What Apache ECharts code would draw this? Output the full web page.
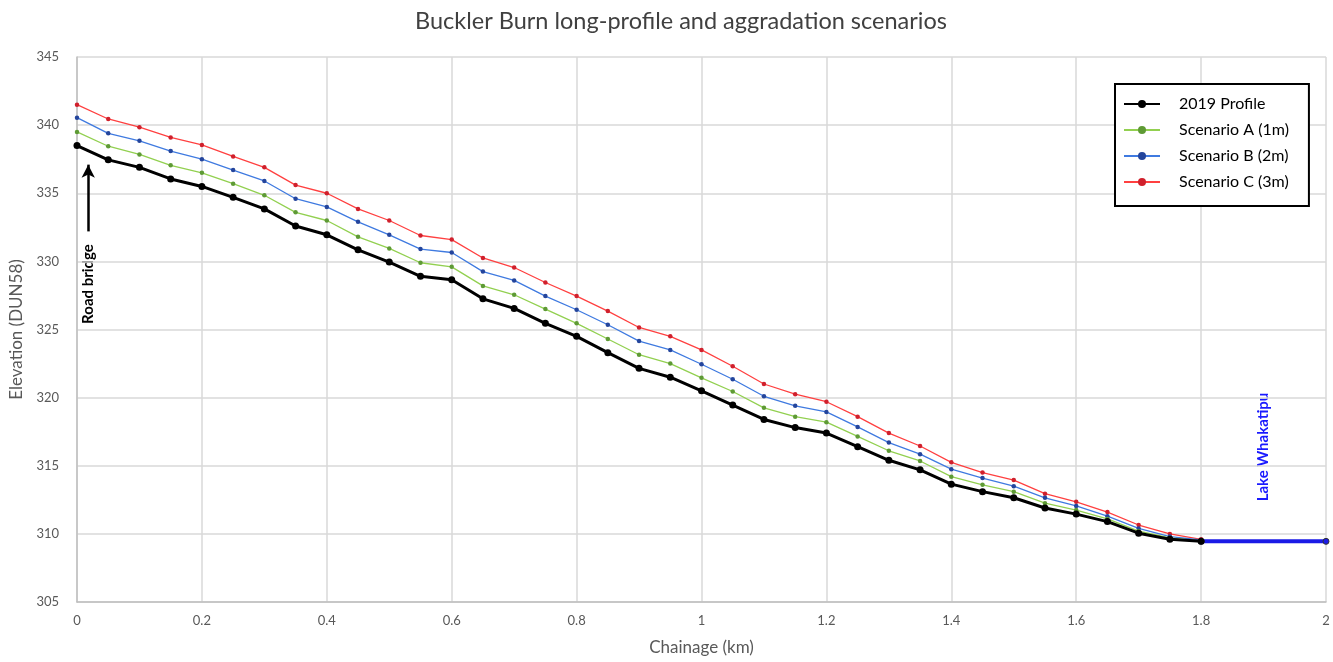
<!DOCTYPE html>
<html>
<head>
<meta charset="utf-8">
<script src="https://cdn.jsdelivr.net/npm/echarts@6/dist/echarts.min.js"></script>
<style>
  html, body { margin: 0; padding: 0; background: #fff; }
  #chart { width: 1333px; height: 662px; }
</style>
</head>
<body>
<div id="chart"></div>
<script>
// chainage in km, one point every 50 m up to the lake
const chainage = [0, 0.05, 0.1, 0.15, 0.2, 0.25, 0.3, 0.35, 0.4, 0.45, 0.5, 0.55, 0.6, 0.65, 0.7, 0.75,
    0.8, 0.85, 0.9, 0.95, 1.0, 1.05, 1.1, 1.15, 1.2, 1.25, 1.3, 1.35, 1.4, 1.45, 1.5, 1.55, 1.6, 1.65,
    1.7, 1.75, 1.8];

const profile2019 = [338.5, 337.45, 336.9, 336.05, 335.5, 334.7, 333.85, 332.6, 331.95, 330.85, 329.95,
    328.9, 328.65, 327.25, 326.55, 325.45, 324.5, 323.3, 322.15, 321.5, 320.5, 319.45, 318.4, 317.8,
    317.4, 316.4, 315.4, 314.7, 313.65, 313.1, 312.65, 311.9, 311.45, 310.9, 310.05, 309.6, 309.45];

const scenarioA = [339.5, 338.45, 337.85, 337.05, 336.5, 335.7, 334.85, 333.6, 333.0, 331.8, 330.95,
    329.9, 329.6, 328.2, 327.55, 326.5, 325.45, 324.3, 323.15, 322.5, 321.45, 320.45, 319.25, 318.6,
    318.2, 317.15, 316.1, 315.35, 314.2, 313.6, 313.1, 312.25, 311.75, 311.1, 310.2, 309.7, 309.47];

const scenarioB = [340.55, 339.4, 338.85, 338.1, 337.5, 336.7, 335.9, 334.6, 334.0, 332.9, 331.95,
    330.9, 330.65, 329.25, 328.6, 327.45, 326.45, 325.35, 324.15, 323.5, 322.45, 321.35, 320.1, 319.4,
    318.95, 317.85, 316.7, 315.85, 314.75, 314.1, 313.5, 312.65, 312.05, 311.3, 310.4, 309.8, 309.55];

const scenarioC = [341.5, 340.45, 339.85, 339.1, 338.55, 337.7, 336.9, 335.6, 335.0, 333.85, 333.0,
    331.9, 331.6, 330.25, 329.55, 328.45, 327.45, 326.35, 325.15, 324.5, 323.5, 322.3, 321.0, 320.25,
    319.7, 318.6, 317.4, 316.45, 315.25, 314.5, 313.95, 312.95, 312.35, 311.6, 310.65, 310.0, 309.6];

const lakeChainage = [1.8, 2];
const lakeLevel = [309.45, 309.45];

const seriesNames = ['2019 Profile', 'Scenario A (1m)', 'Scenario B (2m)', 'Scenario C (3m)'];

const pair = (xs, ys) => xs.map((x, i) => [x, ys[i]]);

const font = 'Lato, "Open Sans", sans-serif';

let myChart = echarts.init(document.getElementById('chart'));

const option = {
    animation: false,
    textStyle: { fontFamily: font },
    title: {
        text: 'Buckler Burn long-profile and aggradation scenarios',
        left: 410,
        top: 4,
        textStyle: { fontSize: 23.5, fontWeight: 'normal', color: '#404040', fontFamily: font }
    },
    grid: { left: 77, right: 7, top: 57, bottom: 60 },
    legend: {
        data: seriesNames,
        orient: 'vertical',
        left: 1115,
        top: 84,
        padding: [12, 20, 16, 8],
        itemGap: 10,
        itemWidth: 36,
        itemHeight: 10,
        borderColor: '#000',
        borderWidth: 2,
        backgroundColor: '#fff',
        textStyle: { fontSize: 16, color: '#000', fontFamily: font, padding: [0, 0, 0, 14] }
    },
    xAxis: {
        type: 'value',
        min: 0,
        max: 2,
        interval: 0.2,
        name: 'Chainage (km)',
        nameLocation: 'middle',
        nameGap: 37,
        nameTextStyle: { fontSize: 17, color: '#595959' },
        axisLine: { lineStyle: { color: '#bfbfbf', width: 1.5 } },
        axisTick: { show: false },
        axisLabel: {
            fontSize: 13, color: '#595959', margin: 12,
            formatter: v => String(+v.toFixed(1))
        },
        splitLine: { lineStyle: { color: '#d9d9d9', width: 1.5 } }
    },
    yAxis: {
        type: 'value',
        min: 305,
        max: 345,
        interval: 5,
        name: 'Elevation (DUN58)',
        nameLocation: 'middle',
        nameGap: 47,
        nameTextStyle: { fontSize: 17, color: '#595959' },
        axisLine: { show: true, lineStyle: { color: '#bfbfbf', width: 1.5 } },
        axisTick: { show: false },
        axisLabel: { fontSize: 13, color: '#595959', margin: 18 },
        splitLine: { lineStyle: { color: '#d9d9d9', width: 1.5 } }
    },
    series: [
        {
            name: 'Lake',
            type: 'line',
            data: pair(lakeChainage, lakeLevel),
            lineStyle: { color: '#1a1ae6', width: 4 },
            itemStyle: { color: '#1a1ae6', borderColor: '#333', borderWidth: 1 },
            symbol: 'circle',
            symbolSize: 6,
            z: 1
        },
        {
            name: 'Scenario C (3m)',
            type: 'line',
            data: pair(chainage, scenarioC),
            lineStyle: { color: '#ff4040', width: 1.3 },
            itemStyle: { color: '#d0202c' },
            symbol: 'circle',
            symbolSize: 4.5,
            z: 2
        },
        {
            name: 'Scenario B (2m)',
            type: 'line',
            data: pair(chainage, scenarioB),
            lineStyle: { color: '#3f7ae0', width: 1.3 },
            itemStyle: { color: '#24459c' },
            symbol: 'circle',
            symbolSize: 4.5,
            z: 3
        },
        {
            name: 'Scenario A (1m)',
            type: 'line',
            data: pair(chainage, scenarioA),
            lineStyle: { color: '#92d050', width: 1.3 },
            itemStyle: { color: '#5e9a35' },
            symbol: 'circle',
            symbolSize: 4.5,
            z: 4
        },
        {
            name: '2019 Profile',
            type: 'line',
            data: pair(chainage, profile2019),
            lineStyle: { color: '#000', width: 3 },
            itemStyle: { color: '#000' },
            symbol: 'circle',
            symbolSize: 7,
            z: 5,
            markLine: { // arrow to the road bridge
                silent: true,
                symbol: ['none', 'arrow'],
                symbolSize: [10, 13],
                lineStyle: { color: '#000', width: 2.5, type: 'solid' },
                label: { show: false },
                data: [[{ coord: [0.018, 332.2] }, { coord: [0.018, 337.1] }]]
            }
        }
    ],
    graphic: [
        {
            type: 'text',
            x: 88,
            y: 284,
            rotation: Math.PI / 2,
            style: {
                text: 'Road bridge',
                fontSize: 15,
                fontWeight: 'bold',
                fontFamily: font,
                fill: '#000',
                align: 'center',
                verticalAlign: 'middle'
            }
        },
        {
            type: 'text',
            x: 1263,
            y: 447,
            rotation: Math.PI / 2,
            style: {
                text: 'Lake Whakatipu',
                fontSize: 15,
                fontWeight: 'bold',
                fontFamily: font,
                fill: '#1a1aff',
                align: 'center',
                verticalAlign: 'middle'
            }
        }
    ]
};

myChart.setOption(option);
</script>
</body>
</html>
